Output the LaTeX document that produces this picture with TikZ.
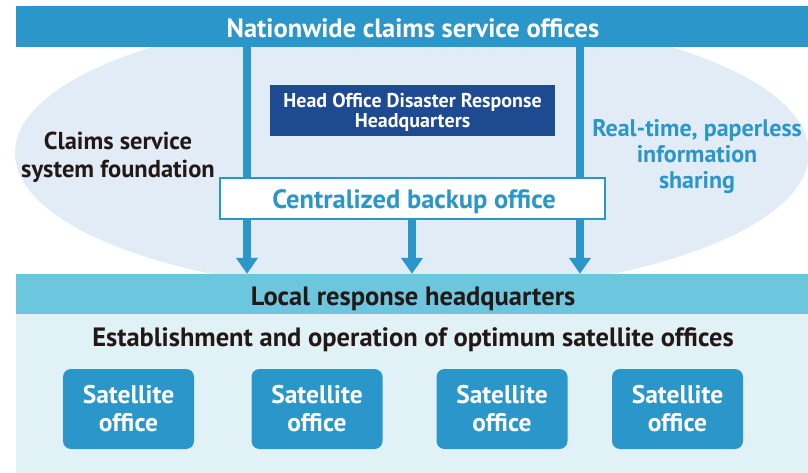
\documentclass[tikz,border=0pt]{standalone}
\usepackage{fontspec}
\setmainfont{PT Sans}
\usetikzlibrary{arrows.meta,shapes.geometric}
\definecolor{topblue}{RGB}{42,150,202}
\definecolor{ellfill}{RGB}{226,236,246}
\definecolor{hqblue}{RGB}{30,74,146}
\definecolor{localbar}{RGB}{108,198,222}
\definecolor{lightarea}{RGB}{225,242,246}
\definecolor{txtdark}{RGB}{35,24,21}
\tikzset{
  band/.style={draw=none,inner sep=0pt,minimum width=792pt},
  arr/.style={draw=topblue,line width=7.5pt,-{Triangle[width=21pt,length=16pt]}},
  boxstyle/.style={draw=topblue,line width=2pt,fill=white,minimum width=385pt,minimum height=41pt,inner sep=0pt},
  satbox/.style={fill=topblue,rounded corners=8pt,minimum width=131pt,minimum height=80pt,
    text=white,align=center,font=\bfseries\fontsize{25.5}{28}\selectfont,inner sep=0pt},
}
\begin{document}
\begin{tikzpicture}[x=1pt,y=-1pt]
\useasboundingbox (0,0) rectangle (808,473);
\node[ellipse,fill=ellfill,minimum width=794pt,minimum height=280pt,inner sep=0pt] (ell) at (412,153) {};
\node[band,fill=topblue,minimum height=41pt] (top) at (412,26.5) {};
\node[font=\bfseries\fontsize{26.5}{30}\selectfont,text=white] (toptxt) at (413,28) {Nationwide claims service offices};
\node[band,fill=lightarea,minimum height=159pt] (area) at (412,393.5) {};
\node[band,fill=localbar,minimum height=40pt] (local) at (412,294) {};
\node[font=\bfseries\fontsize{26.5}{30}\selectfont,text=txtdark] (localtxt) at (413,298.5) {Local response headquarters};
\coordinate (c1) at (247,0);
\coordinate (c2) at (412,0);
\coordinate (c3) at (580,0);
\draw[arr] (top.south -| c1) -- (local.north -| c1);
\draw[arr] (top.south -| c3) -- (local.north -| c3);
\node[boxstyle] (backup) at (412.5,198.5) {};
\draw[arr] (backup.south -| c2) -- (local.north -| c2);
\node[font=\bfseries\fontsize{26.5}{30}\selectfont,text=topblue] (backuptxt) at (414,202) {Centralized backup office};
\node[fill=hqblue,minimum width=285pt,minimum height=51pt,inner sep=0pt,text=white,align=center,
  font=\bfseries\fontsize{20}{20}\selectfont] (hq) at (412.5,110.5) {};
\node[align=center,text=white,font=\bfseries\fontsize{20}{20}\selectfont] (hqtxt) at (412.5,112.5) {Head Office Disaster Response\\Headquarters};
\node[align=center,text=txtdark,font=\bfseries\fontsize{24.5}{28}\selectfont] (left) at (118,157) {Claims service\\system foundation};
\node[align=center,text=topblue,font=\bfseries\fontsize{24}{26}\selectfont] (right) at (697,157) {Real-time, paperless\\information\\sharing};
\node[font=\bfseries\fontsize{26.5}{30}\selectfont,text=txtdark] (est) at (413,339.5) {Establishment and operation of optimum satellite offices};
\node[satbox] (s1) at (128.5,409) {Satellite\\office};
\node[satbox] (s2) at (317,409) {Satellite\\office};
\node[satbox] (s3) at (502,409) {Satellite\\office};
\node[satbox] (s4) at (677.5,409) {Satellite\\office};
\end{tikzpicture}
\end{document}
